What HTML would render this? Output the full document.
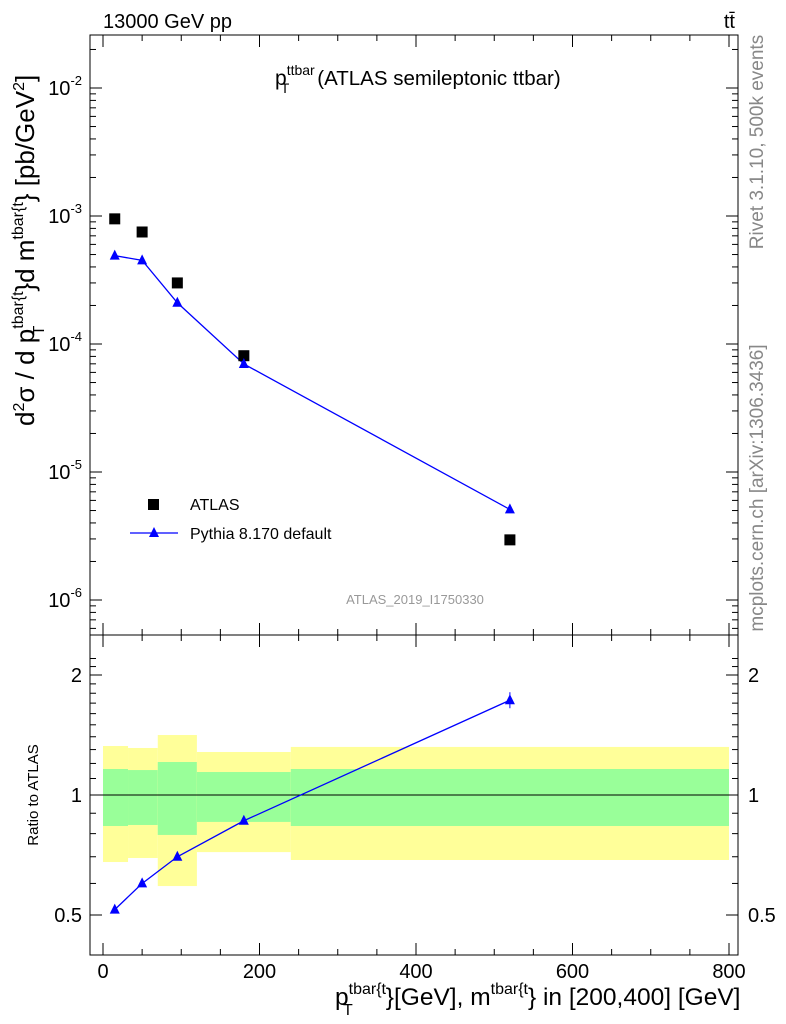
<!DOCTYPE html>
<html><head><meta charset="utf-8"><style>
body{margin:0;background:#fff;}
svg{display:block;font-family:"Liberation Sans",sans-serif;}
</style></head><body>
<svg id="c" width="786" height="1024" viewBox="0 0 786 1024">
<text x="103" y="28" font-size="20">13000 GeV pp</text>
<text x="735" y="28" font-size="20" text-anchor="end">tt̄</text>
<text x="275" y="85" font-size="21">p<tspan font-size="14" dy="-10">ttbar</tspan><tspan font-size="14" dy="18" dx="-34">T</tspan><tspan font-size="20.5" dy="-8" dx="28">(ATLAS semileptonic ttbar)</tspan></text>
<text transform="translate(763,142) rotate(-90)" font-size="19" fill="#888" text-anchor="middle">Rivet 3.1.10,  500k events</text>
<text transform="translate(763,488) rotate(-90)" font-size="19" fill="#888" text-anchor="middle">mcplots.cern.ch [arXiv:1306.3436]</text>
<text x="415" y="604" font-size="13" fill="#999" text-anchor="middle">ATLAS_2019_I1750330</text>
<text transform="translate(34,426) rotate(-90)" font-size="26">d<tspan font-size="16" dy="-10">2</tspan><tspan dy="10">σ / d p</tspan><tspan font-size="16" dy="-11">tbar{t</tspan><tspan font-size="16" dy="21" dx="-44">T</tspan><tspan dy="-10" dx="34">}d m</tspan><tspan font-size="16" dy="-11">tbar{t</tspan><tspan dy="11">} [pb/GeV</tspan><tspan font-size="16" dy="-10">2</tspan><tspan dy="10">]</tspan></text>
<text transform="translate(38,795) rotate(-90)" font-size="15" text-anchor="middle">Ratio to ATLAS</text>
<text x="335" y="1005" font-size="24.5">p<tspan font-size="16" dy="-11">tbar{t</tspan><tspan font-size="16" dy="21" dx="-43">T</tspan><tspan dy="-10" dx="33">}[GeV], m</tspan><tspan font-size="16" dy="-11">tbar{t</tspan><tspan dy="11">} in [200,400] [GeV]</tspan></text>
<g id="bands"></g><g id="axes"></g><g id="marks"></g>
<g>
<rect x="148" y="499" width="11" height="11" fill="#000"/>
<text x="190" y="510" font-size="16">ATLAS</text>
<line x1="130" y1="533" x2="178" y2="533" stroke="#00f" stroke-width="1.3"/>
<polygon points="154,527 159,537 149,537" fill="#00f"/>
<text x="190" y="539" font-size="16">Pythia 8.170 default</text>
</g>
</svg>
<script>
const binEdges=[0,32,70,120,240,800];
const xCenters=[15,50,95,180,520];
const atlasVals=[9.5e-4,7.5e-4,3.0e-4,8.1e-5,2.95e-6];
const pythiaVals=[4.9e-4,4.5e-4,2.1e-4,6.98e-5,5.1e-6];
const yellowUp=[1.327,1.312,1.414,1.282,1.32];
const yellowDn=[0.679,0.695,0.591,0.719,0.687];
const greenUp=[1.162,1.155,1.21,1.142,1.162];
const greenDn=[0.836,0.841,0.794,0.856,0.836];
const xTicks=[0,200,400,600,800];
const yTickExp=[-2,-3,-4,-5,-6];
const rTicks=[0.5,1,2];
const NS="http://www.w3.org/2000/svg";
const L=90,R=738,T=35,M=635,B=955;
const X=v=>103+v*0.7825;
const Y=v=>216-(Math.log10(v)+3)*128;
const RY=v=>795-Math.log2(v)*120;
function mk(p,tag,a){const e=document.createElementNS(NS,tag);for(const k in a)e.setAttribute(k,a[k]);document.getElementById(p).appendChild(e);return e;}
for(let i=0;i<5;i++){
 let e=mk('bands','rect',{x:X(binEdges[i]),y:RY(yellowUp[i]),width:X(binEdges[i+1])-X(binEdges[i]),height:RY(yellowDn[i])-RY(yellowUp[i]),fill:'#ffff99'});
 
 
 e=mk('bands','rect',{x:X(binEdges[i]),y:RY(greenUp[i]),width:X(binEdges[i+1])-X(binEdges[i]),height:RY(greenDn[i])-RY(greenUp[i]),fill:'#99ff99'});
 
 
}
let f=mk('axes','rect',{x:L,y:T,width:R-L,height:M-T,fill:'none',stroke:'#000'});


f=mk('axes','rect',{x:L,y:M,width:R-L,height:B-M,fill:'none',stroke:'#000'});


mk('axes','line',{x1:L,x2:R,y1:RY(1),y2:RY(1),stroke:'#000'});
for(let v=0;v<=800;v+=50){const big=v%200==0,len=big?12:6;
 for(const y0 of [T,M]){mk('axes','line',{x1:X(v),x2:X(v),y1:y0,y2:y0+len,stroke:'#000'});}
 for(const y0 of [M,B]){mk('axes','line',{x1:X(v),x2:X(v),y1:y0,y2:y0-len,stroke:'#000'});}
}
xTicks.forEach(v=>{const t=mk('axes','text',{x:X(v),y:978,'font-size':20,'text-anchor':'middle'});t.textContent=v;
 
 });
for(let e=-7;e<=-1;e++)for(let m=1;m<10;m++){const v=m*Math.pow(10,e);const y=Y(v);if(y<T||y>M)continue;const len=m==1?12:6;
 mk('axes','line',{x1:L,x2:L+len,y1:y,y2:y,stroke:'#000'});mk('axes','line',{x1:R,x2:R-len,y1:y,y2:y,stroke:'#000'});}
yTickExp.forEach(e=>{const t=mk('axes','text',{x:82,y:Y(Math.pow(10,e))+7,'font-size':20,'text-anchor':'end'});
 t.innerHTML='10<tspan font-size="13" dy="-10">'+e+'</tspan>';
 
 });
for(let v=0.5;v<=2.3;v+=0.1){const y=RY(v);if(y<M||y>B)continue;const big=rTicks.some(r=>Math.abs(r-v)<1e-6);const len=big?12:6;
 mk('axes','line',{x1:L,x2:L+len,y1:y,y2:y,stroke:'#000'});mk('axes','line',{x1:R,x2:R-len,y1:y,y2:y,stroke:'#000'});}
rTicks.forEach(v=>{for(const [x,a] of [[82,'end'],[748,'start']]){const t=mk('axes','text',{x:x,y:RY(v)+7,'font-size':20,'text-anchor':a});t.textContent=v;
 
 }});
const tri=(x,y)=>`${x},${y-6} ${x+5},${y+4} ${x-5},${y+4}`;
let pl=mk('marks','polyline',{points:xCenters.map((x,i)=>X(x)+','+Y(pythiaVals[i])).join(' '),fill:'none',stroke:'#00f','stroke-width':1.3});


const ratios=pythiaVals.map((v,i)=>v/atlasVals[i]);
pl=mk('marks','polyline',{points:xCenters.map((x,i)=>X(x)+','+RY(ratios[i])).join(' '),fill:'none',stroke:'#00f','stroke-width':1.3});


xCenters.forEach((x,i)=>{
 let r=mk('marks','rect',{x:X(x)-5.5,y:Y(atlasVals[i])-5.5,width:11,height:11,fill:'#000'});
 
 
 let p=mk('marks','polygon',{points:tri(X(x),Y(pythiaVals[i])),fill:'#00f'});
 
 
 p=mk('marks','polygon',{points:tri(X(x),RY(ratios[i])),fill:'#00f'});
 
 
});
mk('marks','line',{x1:X(520),x2:X(520),y1:RY(ratios[4])-8,y2:RY(ratios[4])+8,stroke:'#00f'});
</script>
</body></html>
